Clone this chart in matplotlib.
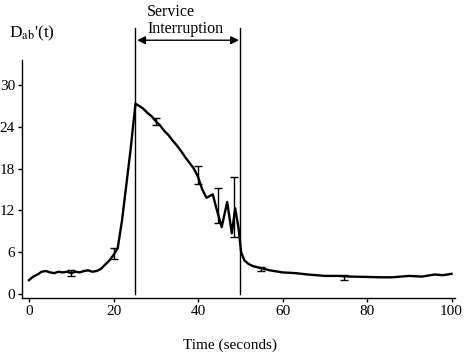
import matplotlib
matplotlib.use("Agg")
import matplotlib.pyplot as plt

plt.rcParams['font.family'] = ['Liberation Serif', 'DejaVu Serif']
plt.rcParams['mathtext.fontset'] = 'stix'

# curva D_ab'(t)
tempo = [0, 1, 2, 3, 4, 5, 6, 7, 8, 9, 10, 11, 12, 13, 14, 15, 16, 17, 18, 19, 20,
         21, 22, 23, 24, 25.2, 26, 27, 28, 29, 30, 31, 32, 33, 34, 35, 36, 37, 38, 39, 40,
         41, 42, 43.5, 44.3, 45.6, 46.9, 48, 48.8, 49.6, 50.2, 51, 52, 53, 55,
         57, 60, 63, 66, 70, 73, 76, 80, 83, 86, 90, 93, 96, 98, 100]
valor = [2.0, 2.5, 2.8, 3.2, 3.3, 3.1, 3.0, 3.2, 3.1, 3.2, 3.0, 3.2, 3.1, 3.3, 3.4, 3.2, 3.3, 3.6, 4.2, 4.8, 5.6,
         6.6, 10.5, 15.5, 20.5, 27.3, 27.0, 26.6, 26.0, 25.5, 24.8, 24.2, 23.4, 22.8, 22.0, 21.3, 20.5, 19.6, 18.8, 18.0, 16.8,
         15.0, 13.8, 14.3, 12.4, 9.6, 13.2, 8.7, 12.3, 9.4, 6.0, 4.8, 4.3, 4.0, 3.7,
         3.4, 3.1, 3.0, 2.8, 2.6, 2.6, 2.5, 2.45, 2.4, 2.4, 2.6, 2.5, 2.8, 2.7, 2.9]

# barras de erro
t_erro = [10, 20, 30, 40, 44.8, 48.6, 54.8, 74.5]
centro_erro = [3.0, 5.8, 24.8, 17.1, 12.7, 12.5, 3.6, 2.4]
meia_erro = [0.4, 0.8, 0.5, 1.3, 2.5, 4.3, 0.3, 0.4]

inicio_int = 25
fim_int = 50

fig = plt.figure(figsize=(4.66, 3.61), dpi=100)
ax = fig.add_axes([0.0472, 0.1745, 0.929, 0.66])

ax.plot(tempo, valor, color='black', lw=1.7)
ax.errorbar(t_erro, centro_erro, yerr=meia_erro, fmt='none', ecolor='black',
            elinewidth=1.0, capsize=3, capthick=1.0)

# linhas de interrupção
for t in (inicio_int, fim_int):
    ax.plot([t, t], [0, 38.2], color='black', lw=1.0, clip_on=False)
ax.annotate('', xy=(fim_int - 0.3, 36.4), xytext=(inicio_int + 0.6, 36.4),
            arrowprops=dict(arrowstyle='<|-|>', color='black', lw=1.0,
                            mutation_scale=12, shrinkA=0, shrinkB=0),
            annotation_clip=False)
fig.text(0.316, 0.988, 'Service\nInterruption', ha='left', va='top',
         fontsize=11.5, linespacing=1.05, multialignment='left')

ax.set_xlim(-1.66, 100.8)
ax.set_ylim(-0.57, 33.6)
ax.set_xticks([0, 20, 40, 60, 80, 100])
ax.set_yticks([0, 6, 12, 18, 24, 30])
ax.tick_params(labelsize=11, length=3, width=1, pad=2, direction='out')
for s in ('top', 'right'):
    ax.spines[s].set_visible(False)
for s in ('left', 'bottom'):
    ax.spines[s].set_linewidth(1.0)

fig.text(0.494, 0.043, 'Time (seconds)', ha='center', va='center', fontsize=11)
fig.text(0.02, 0.907, r"D$_{\rm ab}$'(t)", ha='left', va='center', fontsize=12.5)

fig.savefig('out.png', dpi=100)
